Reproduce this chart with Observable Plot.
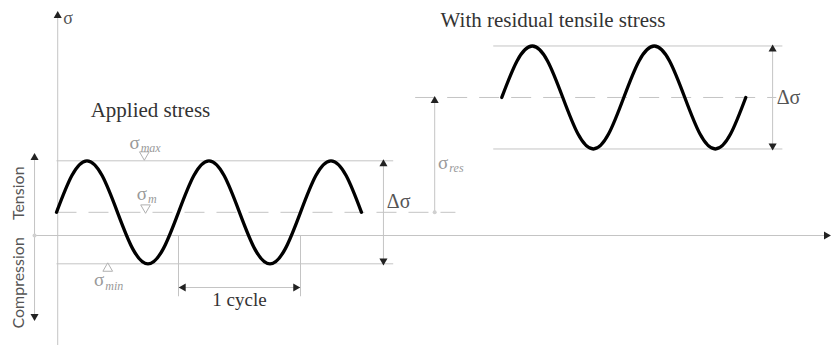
<!DOCTYPE html>
<html>
<head>
<meta charset="utf-8">
<script src="https://cdn.jsdelivr.net/npm/d3@7"></script>
<script src="https://cdn.jsdelivr.net/npm/@observablehq/plot@0.6"></script>
<style>
  html, body { margin: 0; padding: 0; background: #fff; }
</style>
</head>
<body>
<div id="chart"></div>
<script>
// ---- Scale domains (time in cycles, stress in arbitrary units) ----
const timeDomain = [-0.459, 6.369];
const stressDomain = [-213.6, 456.3];

// ---- Applied stress wave (key points every 1/8 cycle) ----
const leftWaveTime = [0, 0.125, 0.25, 0.375, 0.5, 0.625, 0.75, 0.875, 1, 1.125, 1.25, 1.375, 1.5, 1.625, 1.75, 1.875, 2, 2.125, 2.25, 2.375, 2.5];
const leftWaveStress = [45, 116, 145, 116, 45, -26, -55, -26, 45, 116, 145, 116, 45, -26, -55, -26, 45, 116, 145, 116, 45];

// ---- Wave with residual tensile stress ----
const rightWaveTime = [3.65, 3.775, 3.9, 4.025, 4.15, 4.275, 4.4, 4.525, 4.65, 4.775, 4.9, 5.025, 5.15, 5.275, 5.4, 5.525, 5.65];
const rightWaveStress = [268, 339, 368, 339, 268, 197, 168, 197, 268, 339, 368, 339, 268, 197, 168, 197, 268];

// ---- Guide lines: [t1, t2, stress] ----
const solidGuides = [
  [0, 2.76, 145], [0, 2.76, -55],          // sigma max / min
  [3.58, 5.95, 368], [3.58, 5.95, 168]     // residual max / min
];
const dashedGuides = [
  [0, 3.27, 45],                           // sigma mean
  [2.94, 5.9, 268]                         // residual mean
];
// vertical lines: [t, s1, s2]
const verticalLines = [
  [0.01, -214, 427],    // sigma axis
  [-0.18, -157, 151],   // tension / compression
  [2.68, -55, 145],     // delta sigma (applied)
  [3.10, 45, 268],      // sigma res
  [5.87, 168, 368],     // delta sigma (residual)
  [1, -118, 0],         // 1 cycle left
  [2, -118, 0]          // 1 cycle right
];
const horizontalLines = [
  [-0.17, 6.31, 0],     // zero axis
  [1, 2, -101]          // 1 cycle dimension
];

// ---- Arrow heads: [t, s, direction] ----
const arrowHeads = [
  [0.01, 427, 0], [6.31, 0, 90],
  [-0.18, 151, 0], [-0.18, -157, 180],
  [2.68, 139, 0], [2.68, -49, 180],
  [3.10, 262, 0],
  [5.87, 362, 0], [5.87, 174, 180],
  [1.04, -101, -90], [1.96, -101, 90]
];
const smallDots = [[-0.18, 0], [3.10, 45]];

// ---- Hollow markers: [t, s, direction] ----
const markers = [[0.72, 157, 180], [0.73, 54, 180], [0.42, -64, 0]];

// ---- Labels ----
const titleLabels = [
  { t: 0.77, s: 243, text: "Applied stress" },
  { t: 4.07, s: 418, text: "With residual tensile stress" }
];
const deltaLabels = [
  { t: 2.805, s: 66, text: "Δσ" },
  { t: 6.0, s: 268, text: "Δσ" }
];
const sigmaLabels = [
  { t: 0.64, s: 179, text: "σ", sub: "max", st: 0.69, ss: 169 },
  { t: 0.70, s: 80, text: "σ", sub: "m", st: 0.75, ss: 70 },
  { t: 0.35, s: -87, text: "σ", sub: "min", st: 0.40, ss: -98 },
  { t: 3.17, s: 140, text: "σ", sub: "res", st: 3.22, ss: 130 }
];
const axisLabels = [{ t: 0.055, s: 421, text: "σ" }];
const sideLabels = [
  { t: -0.305, s: 82, text: "Tension" },
  { t: -0.305, s: -92, text: "Compression" }
];
const cycleLabels = [{ t: 1.5, s: -126, text: "1 cycle" }];

// ---- Build tables ----
const leftWave = leftWaveTime.map((t, i) => ({ t, s: leftWaveStress[i] }));
const rightWave = rightWaveTime.map((t, i) => ({ t, s: rightWaveStress[i] }));
const hLines = solidGuides.concat(horizontalLines).map(([t1, t2, s]) => ({ t1, t2, s }));
const dLines = dashedGuides.map(([t1, t2, s]) => ({ t1, t2, s }));
const vLines = verticalLines.map(([t, s1, s2]) => ({ t, s1, s2 }));
const heads = arrowHeads.map(([t, s, r]) => ({ t, s, r }));
const dots = smallDots.map(([t, s]) => ({ t, s }));
const marks = markers.map(([t, s, r]) => ({ t, s, r }));

const serif = "'Liberation Serif', 'DejaVu Serif', serif";
const sans = "Lato, 'Open Sans', sans-serif";
const lineColor = "#c4c4c4";

const chart = Plot.plot({
  width: 833,
  height: 345,
  margin: 0,
  x: { domain: timeDomain, axis: null },
  y: { domain: stressDomain, axis: null },
  marks: [
    Plot.link(hLines, { x1: "t1", x2: "t2", y1: "s", y2: "s", stroke: lineColor, strokeWidth: 1 }),
    Plot.link(dLines, { x1: "t1", x2: "t2", y1: "s", y2: "s", stroke: lineColor, strokeWidth: 1, strokeDasharray: "20,12" }),
    Plot.link(vLines, { x1: "t", x2: "t", y1: "s1", y2: "s2", stroke: lineColor, strokeWidth: 1 }),
    Plot.dot(heads, { x: "t", y: "s", symbol: "triangle", r: 3, fill: "#222", stroke: "none", rotate: "r" }),
    Plot.dot(dots, { x: "t", y: "s", r: 2, fill: "#d0d0d0" }),
    Plot.dot(marks, { x: "t", y: "s", symbol: "triangle", r: 3.6, fill: "white", stroke: "#b0b0b0", strokeWidth: 1, rotate: "r" }),
    Plot.line(leftWave, { x: "t", y: "s", curve: "natural", stroke: "#000", strokeWidth: 3.3 }),
    Plot.line(rightWave, { x: "t", y: "s", curve: "natural", stroke: "#000", strokeWidth: 3.3 }),
    Plot.text(titleLabels, { x: "t", y: "s", text: "text", fontFamily: serif, fontSize: 21, fill: "#333" }),
    Plot.text(deltaLabels, { x: "t", y: "s", text: "text", fontFamily: serif, fontSize: 20, fill: "#555" }),
    Plot.text(sigmaLabels, { x: "t", y: "s", text: "text", fontFamily: serif, fontSize: 19, fill: "#999" }),
    Plot.text(sigmaLabels, { x: "st", y: "ss", text: "sub", fontFamily: serif, fontSize: 12, fontStyle: "italic", fill: "#999", textAnchor: "start" }),
    Plot.text(axisLabels, { x: "t", y: "s", text: "text", fontFamily: serif, fontSize: 18, fill: "#555", textAnchor: "start" }),
    Plot.text(sideLabels, { x: "t", y: "s", text: "text", fontFamily: sans, fontSize: 16, fill: "#555", rotate: -90 }),
    Plot.text(cycleLabels, { x: "t", y: "s", text: "text", fontFamily: serif, fontSize: 19, fill: "#333" })
  ]
});
document.getElementById("chart").appendChild(chart);
</script>
</body>
</html>
